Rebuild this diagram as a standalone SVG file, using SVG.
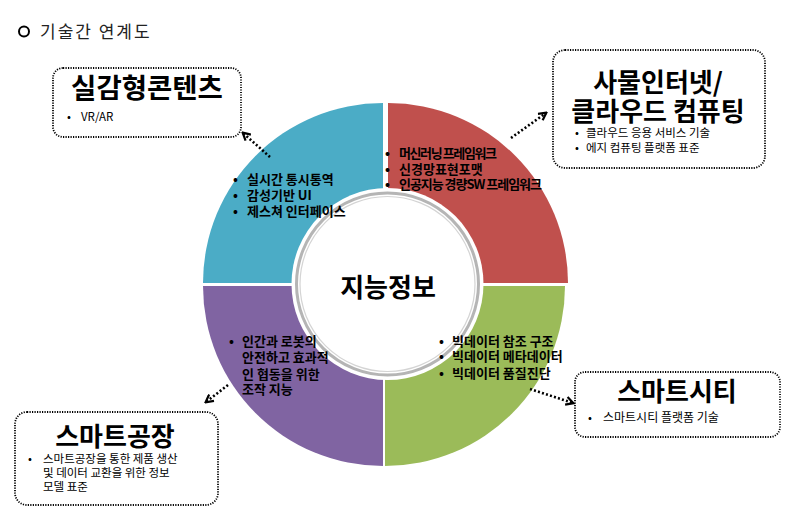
<svg xmlns="http://www.w3.org/2000/svg" width="792" height="523" viewBox="0 0 792 523">
<defs>
<style>
text{font-family:"Noto Sans CJK KR","Noto Sans",sans-serif;fill:#000;}
.q{font-size:13px;font-weight:bold;}
.t{font-size:26px;font-weight:bold;}
.s{font-size:11.5px;font-weight:normal;}
.box{fill:#fff;stroke:#000;stroke-width:1.8;stroke-dasharray:1.2 1.3;}
.con{fill:none;stroke:#000;stroke-width:2.6;stroke-dasharray:2 2.2;}
</style>
<marker id="ah" viewBox="0 0 10 10" refX="8" refY="5" markerWidth="10" markerHeight="10" markerUnits="userSpaceOnUse" orient="auto">
<path d="M1,1 L8.5,5 L1,9" fill="none" stroke="#000" stroke-width="2.2"/>
</marker>
</defs>
<rect width="792" height="523" fill="#fff"/>

<g id="heading">
<circle cx="24" cy="31.5" r="5" fill="none" stroke="#000" stroke-width="2"/>
<text x="40" y="38" style="font-size:17px;letter-spacing:2px;fill:#222">기술간 연계도</text>
</g>

<g id="wheel">
<path d="M383,283 L203,283 A180,180 0 0 1 383,103 Z" fill="#4bacc6"/>
<path d="M388,283 L388,103 A180,180 0 0 1 568,283 Z" fill="#c0504d"/>
<path d="M385,286 L565,286 A180,180 0 0 1 385,466 Z" fill="#9bbb59"/>
<path d="M383,286 L383,466 A180,180 0 0 1 203,286 Z" fill="#8064a2"/>
</g>

<g id="center">
<circle cx="387.5" cy="284" r="96" fill="#fff"/>
<circle cx="387.5" cy="284" r="91" fill="#fff" stroke="#b5b5b5" stroke-width="3"/>
<circle cx="387.5" cy="284" r="87.5" fill="none" stroke="#d4d4d4" stroke-width="1.2"/>
<text x="388" y="297" style="font-size:26px;font-weight:bold;text-anchor:middle">지능정보</text>
</g>

<g id="q-blue">
<text class="q"><tspan x="233" y="184">•</tspan><tspan x="247" y="184">실시간 통시통역</tspan><tspan x="233" y="200">•</tspan><tspan x="247" y="200">감성기반 UI</tspan><tspan x="233" y="216">•</tspan><tspan x="247" y="216">제스쳐 인터페이스</tspan></text>
</g>
<g id="q-red">
<text class="q"><tspan x="385" y="158">•</tspan><tspan x="399" y="158" textLength="98">머신러닝 프레임워크</tspan><tspan x="385" y="174">•</tspan><tspan x="399" y="174">신경망표현포맷</tspan><tspan x="385" y="189">•</tspan><tspan x="399" y="189" textLength="143">인공지능 경량SW 프레임워크</tspan></text>
</g>
<g id="q-green">
<text class="q"><tspan x="439" y="346">•</tspan><tspan x="452" y="346">빅데이터 참조 구조</tspan><tspan x="439" y="361">•</tspan><tspan x="452" y="361">빅데이터 메타데이터</tspan><tspan x="439" y="378">•</tspan><tspan x="452" y="378">빅데이터 품질진단</tspan></text>
</g>
<g id="q-purple">
<text class="q"><tspan x="229" y="346">•</tspan><tspan x="242" y="346">인간과 로봇의</tspan><tspan x="242" y="362">안전하고 효과적</tspan><tspan x="242" y="379">인 협동을 위한</tspan><tspan x="242" y="394">조작 지능</tspan></text>
</g>

<g id="node-content">
<rect class="box" x="53" y="68" width="188" height="69" rx="10"/>
<text><tspan class="t" x="147" y="98" text-anchor="middle" style="font-size:27.5px">실감형콘텐츠</tspan><tspan class="s" x="67" y="121">•</tspan><tspan class="s" x="81" y="121">VR/AR</tspan></text>
</g>

<g id="node-iot">
<rect class="box" x="553" y="50" width="212" height="118" rx="12"/>
<text><tspan class="t" x="658" y="92" text-anchor="middle">사물인터넷/</tspan><tspan class="t" x="658" y="121" text-anchor="middle">클라우드 컴퓨팅</tspan><tspan class="s" x="575" y="137">•</tspan><tspan class="s" x="586" y="137">클라우드 응용 서비스 기술</tspan><tspan class="s" x="575" y="152">•</tspan><tspan class="s" x="586" y="152">에지 컴퓨팅 플랫폼 표준</tspan></text>
</g>

<g id="node-city">
<rect class="box" x="575" y="372" width="205" height="65" rx="10"/>
<text><tspan class="t" x="677" y="401" text-anchor="middle">스마트시티</tspan><tspan class="s" x="588" y="422">•</tspan><tspan class="s" x="603" y="422" style="font-size:12px">스마트시티 플랫폼 기술</tspan></text>
</g>

<g id="node-factory">
<rect class="box" x="15" y="412" width="203" height="93" rx="12"/>
<text><tspan class="t" x="115" y="446" text-anchor="middle">스마트공장</tspan><tspan class="s" x="28" y="463">•</tspan><tspan class="s" x="43" y="463">스마트공장을 통한 제품 생산</tspan><tspan class="s" x="43" y="477">및 데이터 교환을 위한 정보</tspan><tspan class="s" x="43" y="491">모델 표준</tspan></text>
</g>

<g id="connectors">
<line class="con" x1="270" y1="157" x2="243" y2="133" marker-end="url(#ah)"/>
<line class="con" x1="511" y1="138" x2="546" y2="113" marker-end="url(#ah)"/>
<line class="con" x1="530" y1="389" x2="573" y2="403" marker-end="url(#ah)"/>
<line class="con" x1="228" y1="385" x2="206" y2="402" marker-end="url(#ah)"/>
</g>
</svg>
